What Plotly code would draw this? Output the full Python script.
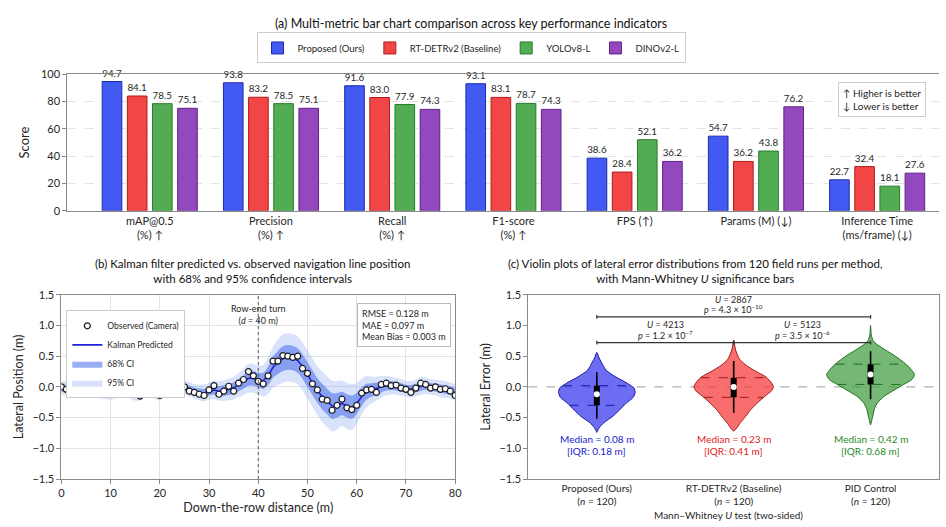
import numpy as np
import plotly.graph_objects as go

FONT = "Lato"
W, H = 946, 527

# ---------------- Panel (a) data ----------------
metrics = ["mAP@0.5<br>(%) ↑", "Precision<br>(%) ↑", "Recall<br>(%) ↑", "F1-score<br>(%) ↑",
           "FPS (↑)", "Params (M) (↓)", "Inference Time<br>(ms/frame) (↓)"]
models = ["Proposed (Ours)", "RT-DETRv2 (Baseline)", "YOLOv8-L", "DINOv2-L"]
proposed = [94.7, 93.8, 91.6, 93.1, 38.6, 54.7, 22.7]
rtdetr = [84.1, 83.2, 83.0, 83.1, 28.4, 36.2, 32.4]
yolo = [78.5, 78.5, 77.9, 78.7, 52.1, 43.8, 18.1]
dino = [75.1, 75.1, 74.3, 74.3, 36.2, 76.2, 27.6]
score_ticks = [0, 20, 40, 60, 80, 100]

# ---------------- Panel (b) data ----------------
dist = list(range(0, 81))
observed = [0.00, -0.04, -0.05, -0.04, 0.10, 0.05, -0.05, -0.08, -0.08, -0.10,
            -0.12, -0.07, -0.04, 0.01, -0.09, -0.12, -0.15, 0.05, 0.01, -0.12,
            -0.14, -0.05, -0.04, -0.07, 0.14, 0.00, -0.07, -0.09, -0.12, -0.14,
            -0.05, 0.02, -0.12, -0.07, 0.01, -0.07, 0.06, 0.12, 0.25, 0.18,
            0.09, 0.05, 0.18, 0.42, 0.42, 0.51, 0.50, 0.48, 0.50, 0.30,
            0.22, 0.05, -0.05, -0.20, -0.22, -0.38, -0.30, -0.20, -0.34, -0.37,
            -0.30, -0.10, -0.05, -0.04, -0.09, 0.04, 0.06, 0.02, 0.03, -0.02,
            -0.04, -0.09, -0.02, 0.06, 0.04, -0.02, 0.00, -0.04, -0.03, -0.07,
            -0.14]
kalman = [-0.02, -0.02, -0.02, 0.00, 0.03, 0.02, -0.02, -0.05, -0.07, -0.08,
          -0.09, -0.07, -0.05, -0.04, -0.06, -0.09, -0.08, -0.03, -0.03, -0.07,
          -0.08, -0.06, -0.05, -0.03, 0.03, 0.00, -0.04, -0.07, -0.09, -0.10,
          -0.07, -0.05, -0.07, -0.06, -0.04, -0.02, 0.03, 0.08, 0.14, 0.14,
          0.11, 0.10, 0.18, 0.32, 0.40, 0.46, 0.48, 0.47, 0.43, 0.33,
          0.20, 0.07, -0.06, -0.16, -0.24, -0.31, -0.30, -0.27, -0.31, -0.33,
          -0.27, -0.16, -0.08, -0.05, -0.03, 0.00, 0.02, 0.02, 0.01, -0.01,
          -0.03, -0.04, -0.02, 0.01, 0.02, 0.00, -0.01, -0.03, -0.04, -0.06,
          -0.09]
sigma = [0.06, 0.06, 0.06, 0.065, 0.07, 0.065, 0.06, 0.06, 0.06, 0.06,
         0.06, 0.06, 0.06, 0.06, 0.065, 0.07, 0.07, 0.065, 0.06, 0.065,
         0.07, 0.06, 0.06, 0.06, 0.065, 0.06, 0.06, 0.06, 0.065, 0.07,
         0.07, 0.075, 0.08, 0.085, 0.09, 0.095, 0.10, 0.11, 0.12, 0.12,
         0.12, 0.13, 0.15, 0.17, 0.19, 0.20, 0.20, 0.20, 0.20, 0.20,
         0.20, 0.20, 0.20, 0.21, 0.21, 0.21, 0.20, 0.19, 0.19, 0.19,
         0.17, 0.15, 0.13, 0.11, 0.10, 0.09, 0.08, 0.075, 0.07, 0.07,
         0.065, 0.07, 0.07, 0.075, 0.07, 0.065, 0.065, 0.07, 0.07, 0.065,
         0.065]
Z95 = 1.96
stats_text = "RMSE = 0.128 m<br>MAE = 0.097 m<br>Mean Bias = 0.003 m"

# ---------------- Panel (c) data ----------------
methods = ["Proposed (Ours)<br>(<i>n</i> = 120)", "RT-DETRv2 (Baseline)<br>(<i>n</i> = 120)",
           "PID Control<br>(<i>n</i> = 120)"]
prop_lvl = [0.56, 0.47, 0.37, 0.27, 0.16, 0.06, -0.02, -0.09, -0.17, -0.27, -0.38, -0.48, -0.58, -0.66, -0.74]
prop_hw = [0.0, 0.017, 0.041, 0.068, 0.140, 0.222, 0.272, 0.280, 0.266, 0.212, 0.164, 0.116, 0.053, 0.019, 0.0]
rt_lvl = [0.76, 0.60, 0.45, 0.35, 0.26, 0.16, 0.06, 0.00, -0.06, -0.15, -0.27, -0.38, -0.50, -0.60, -0.68, -0.72]
rt_hw = [0.0, 0.014, 0.043, 0.092, 0.157, 0.237, 0.278, 0.290, 0.278, 0.229, 0.169, 0.121, 0.080, 0.043, 0.019, 0.0]
pid_lvl = [1.00, 0.85, 0.75, 0.68, 0.60, 0.50, 0.40, 0.30, 0.20, 0.12, 0.04, -0.05, -0.15, -0.25, -0.35, -0.50, -0.62]
pid_hw = [0.0, 0.005, 0.019, 0.053, 0.109, 0.181, 0.242, 0.290, 0.321, 0.302, 0.242, 0.174, 0.101, 0.053, 0.029, 0.014, 0.0]
# box stats: whisker low, q1, median, q3, whisker high
prop_box = [-0.52, -0.30, -0.12, 0.02, 0.24]
rt_box = [-0.42, -0.17, 0.00, 0.15, 0.42]
pid_box = [-0.20, 0.04, 0.20, 0.37, 0.58]
median_lbl = ["Median = 0.08 m", "Median = 0.23 m", "Median = 0.42 m"]
iqr_lbl = ["[IQR: 0.18 m]", "[IQR: 0.41 m]", "[IQR: 0.68 m]"]
sig_pairs = [(0, 1), (1, 2), (0, 2)]
sig_U = ["4213", "5123", "2867"]
sig_p = ["1.2 × 10<sup>−7</sup>", "3.5 × 10<sup>−6</sup>", "4.3 × 10<sup>−10</sup>"]
sig_y = [0.72, 0.72, 1.14]

# ---------------- styling ----------------
bar_fill = ["#4259f2", "#f24646", "#52ad52", "#9448bd"]
bar_edge = ["#1c2bb0", "#b01c1c", "#2a7a2a", "#5f2287"]
vio_fill = ["rgba(60,60,240,0.75)", "rgba(245,60,60,0.75)", "rgba(70,160,70,0.75)"]
vio_edge = ["#1a1aa0", "#a01a1a", "#1f6e1f"]
lbl_col = ["#1a1ad0", "#e01a1a", "#2a8a2a"]
GRID = "#e3e3e3"
AX = "#8a8a8a"
TXT = "#262626"

def px_x(p):
    return p / W

def px_y(p):
    return 1 - p / H

def ann(**kw):
    base = dict(showarrow=False, xanchor="center", yanchor="middle")
    base.update(kw)
    return base

fig = go.Figure()

# ---- Panel (a) bars ----
for name, vals, fc, ec in zip(models, [proposed, rtdetr, yolo, dino], bar_fill, bar_edge):
    fig.add_trace(go.Bar(
        x=metrics, y=vals, name=name, marker=dict(color=fc, line=dict(color=ec, width=1)),
        text=[f"{v:.1f}" for v in vals], textposition="outside", cliponaxis=False,
        textfont=dict(size=10, color=TXT, family=FONT), xaxis="x", yaxis="y",
        legend="legend", hoverinfo="skip"))

# ---- Panel (b) ----
x_rev = dist[::-1]
up95 = [k + Z95 * s for k, s in zip(kalman, sigma)]
lo95 = [k - Z95 * s for k, s in zip(kalman, sigma)]
up68 = [k + s for k, s in zip(kalman, sigma)]
lo68 = [k - s for k, s in zip(kalman, sigma)]
fig.add_trace(go.Scatter(x=dist + x_rev, y=up95 + lo95[::-1], fill="toself", mode="lines",
                         line=dict(width=0, shape="spline"), fillcolor="rgba(120,150,240,0.28)",
                         name="95% CI", xaxis="x2", yaxis="y2", legend="legend2", legendrank=4,
                         hoverinfo="skip"))
fig.add_trace(go.Scatter(x=dist + x_rev, y=up68 + lo68[::-1], fill="toself", mode="lines",
                         line=dict(width=0, shape="spline"), fillcolor="rgba(70,105,235,0.55)",
                         name="68% CI", xaxis="x2", yaxis="y2", legend="legend2", legendrank=3,
                         hoverinfo="skip"))
fig.add_trace(go.Scatter(x=dist, y=kalman, mode="lines", line=dict(color="#2020dd", width=1.6),
                         name="Kalman Predicted", xaxis="x2", yaxis="y2", legend="legend2",
                         legendrank=2))
fig.add_trace(go.Scatter(x=dist, y=observed, mode="markers",
                         marker=dict(symbol="circle", size=6, color="white",
                                     line=dict(color="#1a1a1a", width=1.2)),
                         name="Observed (Camera)", xaxis="x2", yaxis="y2", legend="legend2",
                         legendrank=1))

# ---- Panel (c) violins ----
shapes = []
annotations = []
for i, (lvl, hw, box) in enumerate([(prop_lvl, prop_hw, prop_box), (rt_lvl, rt_hw, rt_box),
                                    (pid_lvl, pid_hw, pid_box)]):
    xs = [i + h for h in hw] + [i - h for h in hw[::-1]]
    ys = list(lvl) + list(lvl[::-1])
    fig.add_trace(go.Scatter(x=xs, y=ys, fill="toself", mode="lines",
                             line=dict(color=vio_edge[i], width=1, shape="spline", smoothing=0.6),
                             fillcolor=vio_fill[i], showlegend=False, xaxis="x3", yaxis="y3",
                             hoverinfo="skip"))
    lv = np.array(lvl[::-1]); hv = np.array(hw[::-1])
    for q in (box[1], box[3]):
        w = float(np.interp(q, lv, hv))
        shapes.append(dict(type="line", xref="x3", yref="y3", x0=i - w, x1=i + w, y0=q, y1=q,
                           line=dict(color=vio_edge[i], width=1, dash="dash"), layer="above"))
    fig.add_trace(go.Scatter(x=[i, i], y=[box[0], box[4]], mode="lines",
                             line=dict(color="black", width=1.6), showlegend=False,
                             xaxis="x3", yaxis="y3", hoverinfo="skip"))
    fig.add_trace(go.Scatter(x=[i, i], y=[box[1], box[3]], mode="lines",
                             line=dict(color="black", width=6), showlegend=False,
                             xaxis="x3", yaxis="y3", hoverinfo="skip"))
    fig.add_trace(go.Scatter(x=[i], y=[box[2]], mode="markers",
                             marker=dict(color="white", size=6, line=dict(width=0)),
                             showlegend=False, xaxis="x3", yaxis="y3", hoverinfo="skip"))
    annotations.append(ann(xref="x3", yref="y3", x=i, y=-0.84, text=median_lbl[i],
                           font=dict(size=10, color=lbl_col[i], family=FONT)))
    annotations.append(ann(xref="x3", yref="y3", x=i, y=-1.05, text=iqr_lbl[i],
                           font=dict(size=10, color=lbl_col[i], family=FONT)))

shapes.append(dict(type="line", xref="x3 domain", yref="y3", x0=0, x1=1, y0=0, y1=0,
                   line=dict(color="#9a9a9a", width=1, dash="dash"), layer="below"))
for (a, b), u, p, yb in zip(sig_pairs, sig_U, sig_p, sig_y):
    shapes.append(dict(type="line", xref="x3", yref="y3", x0=a, x1=b, y0=yb, y1=yb,
                       line=dict(color="#333333", width=1.2)))
    for e in (a, b):
        shapes.append(dict(type="line", xref="x3", yref="y3", x0=e, x1=e, y0=yb - 0.03, y1=yb + 0.03,
                           line=dict(color="#333333", width=1.2)))
    mid = (a + b) / 2
    annotations.append(ann(xref="x3", yref="y3", x=mid, y=yb + 0.29, text=f"<i>U</i> = {u}",
                           font=dict(size=9, color=TXT, family=FONT)))
    annotations.append(ann(xref="x3", yref="y3", x=mid, y=yb + 0.12, text=f"<i>p</i> = {p}",
                           font=dict(size=9, color=TXT, family=FONT)))

# panel (b) decorations
shapes.append(dict(type="line", xref="x2", yref="y2", x0=40, x1=40, y0=-1.5, y1=1.5,
                   line=dict(color="#555555", width=1, dash="dot")))
annotations.append(ann(xref="x2", yref="y2", x=40, y=1.39, yanchor="top",
                       text="Row-end turn<br>(<i>d</i> = 40 m)", align="center",
                       font=dict(size=9, color=TXT, family=FONT)))
annotations.append(ann(xref="x2", yref="y2", x=79.2, y=1.36, xanchor="right", yanchor="top",
                       text=stats_text, align="left", bgcolor="white",
                       bordercolor="#bbbbbb", borderwidth=1, borderpad=4,
                       font=dict(size=9, color=TXT, family=FONT)))
annotations.append(ann(xref="paper", yref="paper", x=px_x(933), y=px_y(77), xanchor="right",
                       yanchor="top", align="left", bgcolor="white",
                       bordercolor="#cccccc", borderwidth=1, borderpad=4,
                       text="↑ Higher is better<br>↓ Lower is better",
                       font=dict(size=10, color=TXT, family=FONT)))
annotations.append(ann(xref="paper", yref="paper", x=0.5, y=px_y(17),
                       text="(a) Multi-metric bar chart comparison across key performance indicators",
                       font=dict(size=12.5, color="#111111", family=FONT)))
annotations.append(ann(xref="paper", yref="paper", x=px_x(252), y=px_y(271),
                       text="(b) Kalman filter predicted vs. observed navigation line position<br>"
                            "with 68% and 95% confidence intervals",
                       font=dict(size=11.5, color="#111111", family=FONT)))
annotations.append(ann(xref="paper", yref="paper", x=px_x(700), y=px_y(271),
                       text="(c) Violin plots of lateral error distributions from 120 field runs per method,<br>"
                            "with Mann-Whitney <i>U</i> significance bars",
                       font=dict(size=11.5, color="#111111", family=FONT)))
annotations.append(ann(xref="paper", yref="paper", x=px_x(733), y=px_y(521),
                       text="Mann–Whitney <i>U</i> test (two-sided)",
                       font=dict(size=10, color=TXT, family=FONT)))

tick_font = dict(size=11, color=TXT, family=FONT)
fig.update_layout(
    width=W, height=H, margin=dict(l=0, r=0, t=0, b=0),
    paper_bgcolor="white", plot_bgcolor="white",
    font=dict(family=FONT, color=TXT),
    barmode="group", bargap=0.17, bargroupgap=0.22,
    showlegend=True,
    legend=dict(orientation="h", x=0.5, xanchor="center", y=px_y(42), yanchor="middle",
                bordercolor="#cccccc", borderwidth=1, bgcolor="white",
                font=dict(size=9.5, color=TXT, family=FONT), itemwidth=30),
    legend2=dict(x=px_x(64), y=px_y(311), xanchor="left", yanchor="top",
                 bordercolor="#cccccc", borderwidth=1, bgcolor="white",
                 font=dict(size=8.5, color=TXT, family=FONT), tracegroupgap=0, itemwidth=30),
    xaxis=dict(domain=[px_x(65), 1.0], range=[-0.68, 6.51], tickfont=tick_font, anchor="y",
               showline=True, linecolor=AX, mirror=True, ticks="", showgrid=False),
    yaxis=dict(domain=[px_y(209), px_y(69)], range=[0, 100], tickvals=score_ticks, anchor="x",
               tickfont=tick_font, showline=True, linecolor=AX, ticks="outside", ticklen=4,
               tickcolor=AX, showgrid=True, gridcolor=GRID, griddash="dash",
               title=dict(text="Score", font=dict(size=13, color=TXT, family=FONT), standoff=8),
               zeroline=False),
    xaxis2=dict(domain=[px_x(59), px_x(457)], range=[0, 80], dtick=10, tickfont=tick_font,
                anchor="y2",
                showline=True, linecolor=AX, mirror=True, ticks="outside", ticklen=4, tickcolor=AX,
                showgrid=True, gridcolor=GRID, zeroline=False,
                title=dict(text="Down-the-row distance (m)", font=dict(size=12.5, color=TXT, family=FONT),
                           standoff=4)),
    yaxis2=dict(domain=[px_y(484), px_y(295)], range=[-1.5, 1.5], dtick=0.5, tickformat=".1f",
                anchor="x2",
                tickfont=tick_font, showline=True, linecolor=AX, mirror=True, ticks="outside",
                ticklen=4, tickcolor=AX, showgrid=True, gridcolor=GRID, zeroline=False,
                title=dict(text="Lateral Position (m)", font=dict(size=12.5, color=TXT, family=FONT),
                           standoff=6)),
    xaxis3=dict(domain=[px_x(531), 1.0], range=[-0.5, 2.5], tickvals=[0, 1, 2], ticktext=methods,
                anchor="y3",
                tickfont=dict(size=10, color=TXT, family=FONT), showline=True, linecolor=AX,
                mirror=True, ticks="", showgrid=False, zeroline=False),
    yaxis3=dict(domain=[px_y(484), px_y(295)], range=[-1.5, 1.5], dtick=0.5, tickformat=".1f",
                anchor="x3",
                tickfont=tick_font, showline=True, linecolor=AX, mirror=True, ticks="outside",
                ticklen=4, tickcolor=AX, showgrid=False, zeroline=False,
                title=dict(text="Lateral Error (m)", font=dict(size=12.5, color=TXT, family=FONT),
                           standoff=6)),
    shapes=shapes, annotations=annotations,
)

fig.write_html("out.html")
